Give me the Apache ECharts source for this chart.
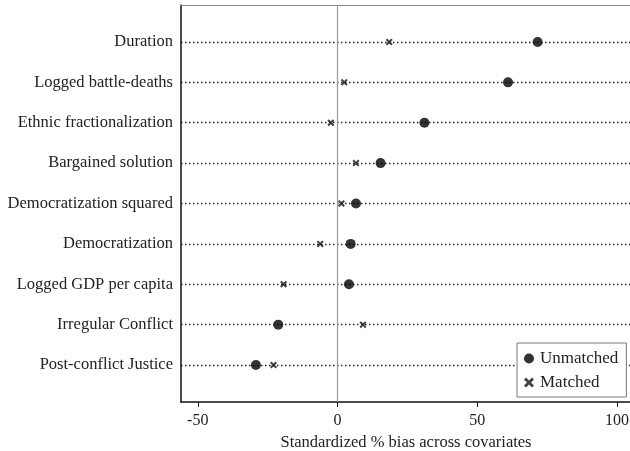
<!DOCTYPE html>
<html>
<head>
<meta charset="utf-8">
<script src="https://cdn.jsdelivr.net/npm/echarts@6/dist/echarts.min.js"></script>
<style>
  html, body { margin: 0; padding: 0; background: #fff; }
  #chart { width: 630px; height: 451px; }
</style>
</head>
<body>
<div id="chart"></div>
<script>
// Covariates, listed top to bottom
const covariates = [
  'Duration',
  'Logged battle-deaths',
  'Ethnic fractionalization',
  'Bargained solution',
  'Democratization squared',
  'Democratization',
  'Logged GDP per capita',
  'Irregular Conflict',
  'Post-conflict Justice'
];
// Standardized % bias before matching
const unmatched = [71.6, 61.0, 31.1, 15.4, 6.6, 4.7, 4.1, -21.2, -29.2];
// Standardized % bias after matching
const matched = [18.5, 2.4, -2.4, 6.6, 1.4, -6.2, -19.3, 9.1, -22.9];
// Tick labels of the bias axis
const xTicks = [-50, 0, 50, 100];

const FONT = '"Liberation Serif", "Times New Roman", serif';
const CROSS = 'path://M0,2 L2,0 L5,3 L8,0 L10,2 L7,5 L10,8 L8,10 L5,7 L2,10 L0,8 L3,5 Z';
const rows = covariates.map((_, i) => i + 1);

const chart = echarts.init(document.getElementById('chart'), null, { renderer: 'canvas' });
chart.setOption({
  animation: false,
  backgroundColor: '#fff',
  grid: { left: 181, right: -1, top: 5, bottom: 49, show: false, containLabel: false, outerBoundsMode: 'none' },
  xAxis: [
    {
      type: 'value', min: -56, max: 105,
      name: 'Standardized % bias across covariates',
      nameLocation: 'middle', nameGap: 31,
      nameTextStyle: { fontFamily: FONT, fontSize: 16.5, color: '#222' },
      axisLine: { show: true, onZero: false, lineStyle: { color: '#111', width: 1.5 } },
      axisTick: { show: true, inside: false, length: 5, customValues: xTicks, lineStyle: { color: '#111' } },
      axisLabel: { customValues: xTicks, fontFamily: FONT, fontSize: 16, color: '#222', margin: 11 },
      splitLine: { show: false }
    },
    {
      // top frame edge
      type: 'value', min: -56, max: 105, position: 'top',
      axisLine: { show: true, onZero: false, lineStyle: { color: '#888', width: 1.2 } },
      axisTick: { show: false }, axisLabel: { show: false }, splitLine: { show: false }
    }
  ],
  yAxis: {
    type: 'value', min: 0.084, max: 9.916, inverse: true,
    axisLine: { show: true, onZero: false, lineStyle: { color: '#111', width: 1.5 } },
    axisTick: { show: false },
    axisLabel: {
      customValues: rows,
      formatter: v => covariates[Math.round(v) - 1] || '',
      fontFamily: FONT, fontSize: 16.5, color: '#222', margin: 8
    },
    splitLine: { show: false }
  },
  legend: {
    z: 20,
    orient: 'vertical',
    left: 517, top: 343, width: 110, height: 54,
    padding: [7, 8, 6, 7],
    itemGap: 7,
    itemWidth: 10, itemHeight: 10,
    borderColor: '#777', borderWidth: 1,
    backgroundColor: '#fff',
    textStyle: { fontFamily: FONT, fontSize: 17, color: '#222', padding: [0, 0, 0, 1] },
    data: [
      { name: 'Unmatched', icon: 'circle', itemStyle: { color: '#000' } },
      { name: 'Matched', icon: CROSS, itemStyle: { color: '#111' } }
    ]
  },
  series: [
    {
      // guide lines and zero reference
      type: 'line', data: [], silent: true, z: 1,
      markLine: {
        silent: true, symbol: 'none', animation: false, z: 1,
        label: { show: false },
        data: rows.map(r => ({ yAxis: r, lineStyle: { color: '#222', width: 1.3, type: [1.5, 2.5] } }))
          .concat([{ xAxis: 0, lineStyle: { color: '#999', width: 1.2, type: 'solid' } }])
      }
    },
    {
      name: 'Unmatched', type: 'scatter', symbol: 'circle', symbolSize: 10,
      itemStyle: { color: '#000' }, z: 5,
      data: unmatched.map((v, i) => [v, i + 1])
    },
    {
      name: 'Matched', type: 'scatter', symbol: CROSS, symbolSize: 7,
      itemStyle: { color: '#111' }, z: 5,
      data: matched.map((v, i) => [v, i + 1])
    }
  ]
});
</script>
</body>
</html>
